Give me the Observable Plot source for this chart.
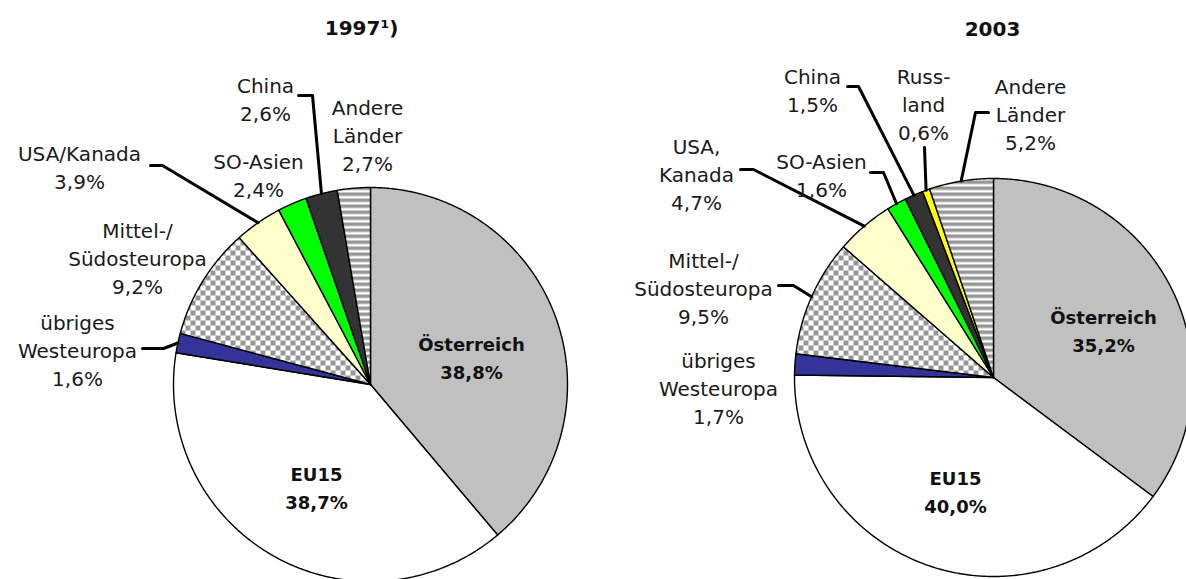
<!DOCTYPE html>
<html>
<head>
<meta charset="utf-8">
<script src="https://cdn.jsdelivr.net/npm/d3@7"></script>
<script src="https://cdn.jsdelivr.net/npm/@observablehq/plot@0.6"></script>
<style>
  html, body { margin: 0; padding: 0; background: #fff; }
  #chart { position: relative; width: 1186px; height: 579px; overflow: hidden; background: #fff; }
  #chart > svg { position: absolute; top: 0; }
</style>
</head>
<body>
<div id="chart"></div>
<script>
// ---------------- DATA ----------------
const title1997 = "1997¹)";
const categories1997 = ["Österreich", "EU15", "übriges Westeuropa", "Mittel-/Südosteuropa", "USA/Kanada", "SO-Asien", "China", "Andere Länder"];
const values1997 = [38.8, 38.7, 1.6, 9.2, 3.9, 2.4, 2.6, 2.7];
const names1997 = ["Österreich", "EU15", "übriges\nWesteuropa", "Mittel-/\nSüdosteuropa", "USA/Kanada", "SO-Asien", "China", "Andere\nLänder"];

const title2003 = "2003";
const categories2003 = ["Österreich", "EU15", "übriges Westeuropa", "Mittel-/Südosteuropa", "USA/Kanada", "SO-Asien", "China", "Russland", "Andere Länder"];
const values2003 = [35.2, 40.0, 1.7, 9.5, 4.7, 1.6, 1.5, 0.6, 5.2];
const names2003 = ["Österreich", "EU15", "übriges\nWesteuropa", "Mittel-/\nSüdosteuropa", "USA,\nKanada", "SO-Asien", "China", "Russ-\nland", "Andere\nLänder"];

const boldCategories = ["Österreich", "EU15"];

// ---------------- STYLE ----------------
const fills = {
  "Österreich": "#c0c0c0",
  "EU15": "#ffffff",
  "übriges Westeuropa": "#333399",
  "Mittel-/Südosteuropa": "url(#checker-ID)",
  "USA/Kanada": "#ffffcc",
  "SO-Asien": "#00ff00",
  "China": "#333333",
  "Russland": "#ffff00",
  "Andere Länder": "url(#stripes-ID)"
};
const textFont = "DejaVu Sans";

// ---------------- LAYOUT (pixel offsets from each pie centre) ----------------
const layout1997 = {
  left: 0, width: 593, height: 579, cx: 370, cy: 384, r: 197,
  title: [-9, -356],
  labels: {
    "Österreich": [101, -28], "EU15": [-54, 102],
    "übriges Westeuropa": [-293, -35], "Mittel-/Südosteuropa": [-233, -127],
    "USA/Kanada": [-291, -218], "SO-Asien": [-112, -210.5],
    "China": [-105, -286.5], "Andere Länder": [-3, -250]
  },
  leaders: {
    "China": [[-72, -289], [-58, -289]],
    "USA/Kanada": [[-220, -219], [-208, -219]],
    "übriges Westeuropa": [[-228, -36], [-207, -36]]
  }
};
const layout2003 = {
  left: 593, width: 593, height: 579, cx: 400, cy: 377, r: 199,
  title: [-1, -348],
  labels: {
    "Österreich": [110, -48], "EU15": [-38, 112.5],
    "übriges Westeuropa": [-275, 10], "Mittel-/Südosteuropa": [-290, -90],
    "USA/Kanada": [-297, -204], "SO-Asien": [-172, -203.5],
    "China": [-181, -288], "Russland": [-70, -274], "Andere Länder": [37, -264]
  },
  leaders: {
    "China": [[-146, -291], [-135, -291]],
    "Russland": [[-69, -230]],
    "Andere Länder": [[-5, -265], [-18, -265]],
    "USA/Kanada": [[-253, -208], [-240, -208]],
    "SO-Asien": [[-123, -205], [-110, -205]],
    "Mittel-/Südosteuropa": [[-215, -92], [-200, -92]]
  }
};

const fmt = v => v.toFixed(1).replace(".", ",") + "%";

function drawPie(id, title, cats, vals, names, L) {
  const rows = cats.map((c, i) => ({cat: c, value: vals[i], name: names[i]}));
  const arcs = d3.pie().sort(null).value(d => d.value).startAngle(0).endAngle(2 * Math.PI)(rows);
  const fillFor = c => fills[c].replace("ID", id);
  const marks = [];
  // slices
  for (const a of arcs) {
    const pts = [{x: 0, y: 0}];
    const n = Math.max(2, Math.ceil((a.endAngle - a.startAngle) / (Math.PI / 360)));
    for (let k = 0; k <= n; k++) {
      const t = a.startAngle + (a.endAngle - a.startAngle) * k / n;
      pts.push({x: L.r * Math.sin(t), y: -L.r * Math.cos(t)});
    }
    pts.push({x: 0, y: 0});
    marks.push(Plot.line(pts, {x: "x", y: "y", fill: fillFor(a.data.cat), stroke: "#000", strokeWidth: 1.4, strokeLinejoin: "round"}));
  }
  // leader lines
  for (const a of arcs) {
    const ld = L.leaders[a.data.cat];
    if (!ld) continue;
    const mid = (a.startAngle + a.endAngle) / 2;
    const pts = ld.map(([x, y]) => ({x, y}));
    pts.push({x: L.r * Math.sin(mid), y: -L.r * Math.cos(mid)});
    marks.push(Plot.line(pts, {x: "x", y: "y", stroke: "#000", strokeWidth: 3, strokeLinejoin: "round"}));
  }
  // labels
  const lab = arcs.map(a => ({
    cat: a.data.cat,
    x: L.labels[a.data.cat][0], y: L.labels[a.data.cat][1],
    text: a.data.name + "\n" + fmt(a.data.value)
  }));
  marks.push(Plot.text(lab.filter(d => !boldCategories.includes(d.cat)), {
    x: "x", y: "y", text: "text", fontSize: 20, fontFamily: textFont, lineHeight: 1.4,
    lineAnchor: "middle", textAnchor: "middle", fill: "#1a1a1a"
  }));
  marks.push(Plot.text(lab.filter(d => boldCategories.includes(d.cat)), {
    x: "x", y: "y", text: "text", fontSize: 18, fontWeight: "bold", fontFamily: textFont, lineHeight: 1.55,
    lineAnchor: "middle", textAnchor: "middle", fill: "#111"
  }));
  marks.push(Plot.text([title], {
    x: () => L.title[0], y: () => L.title[1], text: d => d, fontSize: 20, fontWeight: "bold",
    fontFamily: textFont, lineAnchor: "middle", textAnchor: "middle", fill: "#111"
  }));

  const svg = Plot.plot({
    width: L.width, height: L.height,
    marginTop: 0, marginRight: 0, marginBottom: 0, marginLeft: 0,
    x: {domain: [-L.cx, L.width - L.cx], range: [0, L.width], axis: null},
    y: {domain: [-L.cy, L.height - L.cy], range: [0, L.height], axis: null},
    style: {background: "#fff", fontFamily: textFont, overflow: "hidden"},
    marks
  });
  const defs = d3.select(svg).insert("defs", ":first-child");
  const ck = defs.append("pattern").attr("id", "checker-" + id).attr("patternUnits", "userSpaceOnUse").attr("width", 10).attr("height", 10);
  ck.append("rect").attr("width", 10).attr("height", 10).attr("fill", "#fff");
  ck.append("rect").attr("width", 5).attr("height", 5).attr("fill", "#969696");
  ck.append("rect").attr("x", 5).attr("y", 5).attr("width", 5).attr("height", 5).attr("fill", "#969696");
  const st = defs.append("pattern").attr("id", "stripes-" + id).attr("patternUnits", "userSpaceOnUse").attr("width", 6).attr("height", 6);
  st.append("rect").attr("width", 6).attr("height", 6).attr("fill", "#fff");
  st.append("rect").attr("width", 6).attr("height", 3.5).attr("fill", "#969696");
  svg.style.left = L.left + "px";
  document.getElementById("chart").appendChild(svg);
}

drawPie("a", title1997, categories1997, values1997, names1997, layout1997);
drawPie("b", title2003, categories2003, values2003, names2003, layout2003);
</script>
</body>
</html>
